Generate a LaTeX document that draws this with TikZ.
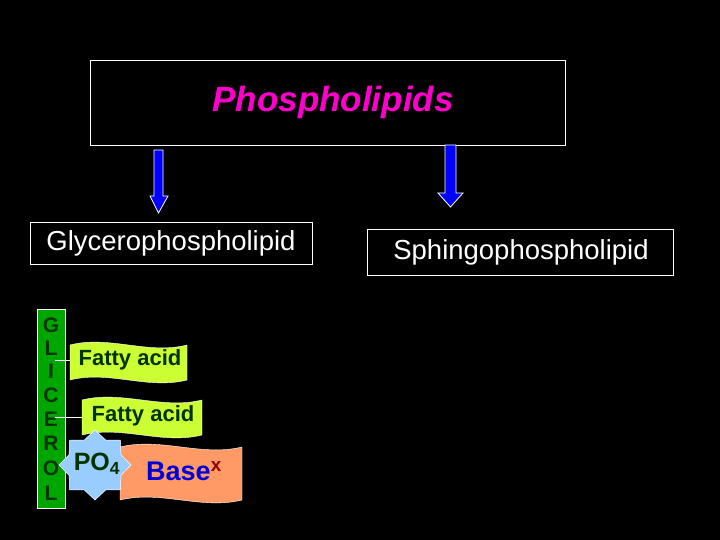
\documentclass[tikz,border=0pt]{standalone}
\usepackage{fontspec}
\setmainfont{Liberation Sans}
\definecolor{flagc}{HTML}{CCFF33}
\definecolor{basec}{HTML}{FF9966}
\definecolor{starc}{HTML}{99CCFF}
\definecolor{dgreen}{HTML}{003300}
\definecolor{titlec}{HTML}{FF00CC}
\begin{document}
\begin{tikzpicture}[x=1pt,y=-1pt,
  box/.style={draw=white,line width=0.8pt,fill=black},
  arr/.style={draw=white,fill=blue,line width=0.8pt},
  flagtxt/.style={font=\bfseries\fontsize{22}{24}\selectfont,text=dgreen}]
\fill[black] (0,0) rectangle (720,540);
\useasboundingbox (0,0) rectangle (720,540);
\node[box,minimum width=475,minimum height=85,anchor=north west] (top) at (90,60) {};
\node[text=titlec,font=\bfseries\itshape\fontsize{35}{37}\selectfont] (title) at (333,102) {Phospholipids};
% arrows
\draw[arr] (154,150) -- (163,150) -- (163,196) -- (168,196) -- (158.5,213) -- (150,196) -- (154,196) -- cycle;
\draw[arr] (445,145) -- (456,145) -- (456,193) -- (463,193) -- (450.5,207) -- (438,193) -- (445,193) -- cycle;
\node[box,minimum width=282,minimum height=42,anchor=north west] (gly) at (30,222) {};
\node[text=white,font=\fontsize{27.5}{29}\selectfont] (glyt) at (171,243) {Glycerophospholipid};
\node[box,minimum width=306,minimum height=46,anchor=north west] (sph) at (367,229) {};
\node[text=white,font=\fontsize{27.5}{29}\selectfont] (spht) at (521,252) {Sphingophospholipid};
% glycerol column
\node[draw=white,fill=green!65!black,line width=0.5pt,minimum width=28,minimum height=199,anchor=north west,inner sep=0] (col) at (37,309) {};
\foreach \l/\y [count=\i] in {G/325,L/348,I/371,C/395,E/419,R/443,O/468,L/493}
  \node[font=\bfseries\fontsize{21}{22}\selectfont,text=dgreen] (g\i) at (51,\y) {\l};
% flags
\newcommand\wflag[5]{%
  \path[fill=#5,draw=white,line width=0.4pt] (#1,#2) .. controls ({#1+(#3-#1)/3},{#2-10}) and ({#1+2*(#3-#1)/3},{#2+10}) .. (#3,#2)
   -- (#3,#4) .. controls ({#1+2*(#3-#1)/3},{#4+10}) and ({#1+(#3-#1)/3},{#4-10}) .. (#1,#4) -- cycle;}
\draw[white,line width=0.5pt] (55,360) -- (72,360);
\draw[white,line width=0.5pt] (55,417) -- (84,417);
\wflag{70}{345}{187}{380}{flagc}
\node[flagtxt] (fa1) at (130,360) {Fatty acid};
\wflag{82}{400}{202}{435}{flagc}
\node[flagtxt] (fa2) at (143,416) {Fatty acid};
\wflag{120}{447}{242}{500}{basec}
\node[font=\bfseries\fontsize{27}{29}\selectfont,text=blue!85!black] (base) at (184,471) {Base\textsuperscript{\textcolor{red!60!black}{x}}};
% PO4 star
\path[fill=starc,draw=white,line width=0.5pt]
  plot[samples at={0,22.5,...,337.5}] ({95+ifthenelse(mod(round(\x/22.5),2)==0,36,28)*cos(\x)},{465+ifthenelse(mod(round(\x/22.5),2)==0,35,27)*sin(\x)}) -- cycle;
\node[font=\bfseries\fontsize{25}{27}\selectfont,text=dgreen] (po) at (97,464) {PO\textsubscript{4}};
\end{tikzpicture}
\end{document}
